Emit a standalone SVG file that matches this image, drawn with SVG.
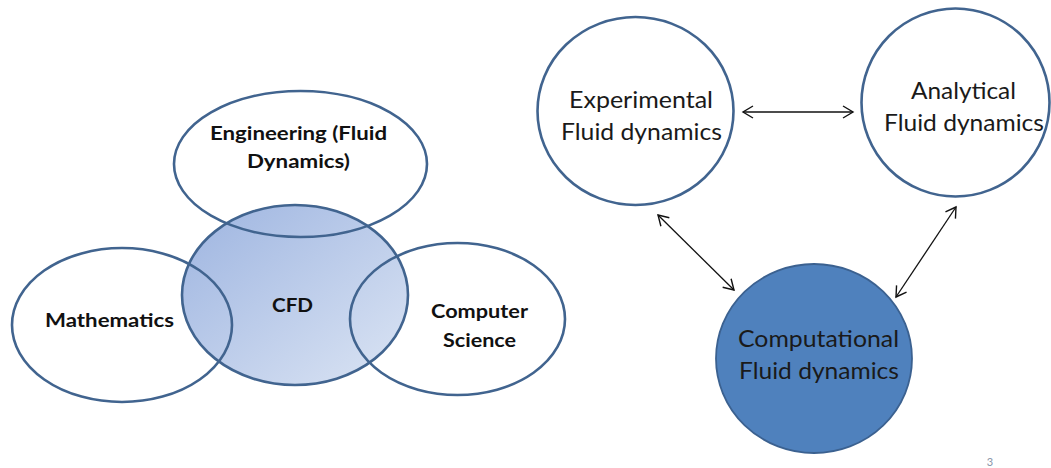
<svg xmlns="http://www.w3.org/2000/svg" width="1051" height="468" viewBox="0 0 1051 468">
<style>
.ring{fill:none;stroke:#41648F;stroke-width:2.6}
.lb{font-family:Lato,"Open Sans","Liberation Sans",sans-serif;font-weight:bold;font-size:19px;fill:#111;text-anchor:middle}
.lr{font-family:Lato,"Open Sans","Liberation Sans",sans-serif;font-size:23px;fill:#1a1a1a;text-anchor:middle}
.conn{stroke:#111;stroke-width:1.3;fill:none;marker-start:url(#ah);marker-end:url(#ah)}
</style>
<defs>
<linearGradient id="cfdg" x1="0" y1="0" x2="1" y2="1">
<stop offset="0" stop-color="#9DB4E0"/>
<stop offset="1" stop-color="#DCE5F4"/>
</linearGradient>
<marker id="ah" viewBox="-12 -8 14 16" markerWidth="14" markerHeight="16" refX="0" refY="0" markerUnits="userSpaceOnUse" orient="auto-start-reverse">
<path d="M-10,-6 L0,0 L-10,6" fill="none" stroke="#111" stroke-width="1.4"/>
</marker>
</defs>
<rect width="1051" height="468" fill="#fff"/>
<g id="cfd">
<ellipse cx="295" cy="295" rx="113" ry="90" fill="url(#cfdg)" stroke="#41648F" stroke-width="2.6"/>
<text class="lb" x="292.5" y="312" font-size="21" textLength="41" lengthAdjust="spacingAndGlyphs">CFD</text>
</g>
<g id="engineering">
<ellipse class="ring" cx="300.5" cy="164" rx="126.5" ry="73"/>
<text class="lb" x="298.5" y="140" textLength="177" lengthAdjust="spacingAndGlyphs">Engineering (Fluid</text>
<text class="lb" x="298.5" y="168" textLength="103" lengthAdjust="spacingAndGlyphs">Dynamics)</text>
</g>
<g id="mathematics">
<ellipse class="ring" cx="122" cy="325" rx="110" ry="77"/>
<text class="lb" x="109.5" y="327" textLength="129" lengthAdjust="spacingAndGlyphs">Mathematics</text>
</g>
<g id="computer-science">
<ellipse class="ring" cx="457.5" cy="319" rx="107.5" ry="76"/>
<text class="lb" x="479.5" y="318" textLength="97" lengthAdjust="spacingAndGlyphs">Computer</text>
<text class="lb" x="479.5" y="347" textLength="73" lengthAdjust="spacingAndGlyphs">Science</text>
</g>
<g id="experimental">
<ellipse class="ring" cx="635.5" cy="111" rx="98" ry="94"/>
<text class="lr" x="641" y="108" textLength="144" lengthAdjust="spacingAndGlyphs">Experimental</text>
<text class="lr" x="641.5" y="140" textLength="161" lengthAdjust="spacingAndGlyphs">Fluid dynamics</text>
</g>
<g id="analytical">
<ellipse class="ring" cx="955.5" cy="102.5" rx="94" ry="94"/>
<text class="lr" x="963.5" y="99" textLength="105" lengthAdjust="spacingAndGlyphs">Analytical</text>
<text class="lr" x="964" y="131" textLength="160" lengthAdjust="spacingAndGlyphs">Fluid dynamics</text>
</g>
<g id="computational">
<ellipse cx="814" cy="358.5" rx="98" ry="94.5" fill="#4F81BD" stroke="#3B6190" stroke-width="1.8"/>
<text class="lr" x="818.5" y="347" textLength="161" lengthAdjust="spacingAndGlyphs">Computational</text>
<text class="lr" x="819" y="379" textLength="160" lengthAdjust="spacingAndGlyphs">Fluid dynamics</text>
</g>
<g id="connectors">
<line class="conn" x1="743" y1="112" x2="853" y2="112"/>
<line class="conn" x1="658" y1="215" x2="734" y2="290"/>
<line class="conn" x1="956" y1="207" x2="896" y2="297"/>
</g>
<text x="990" y="466" font-family="Lato,'Liberation Sans',sans-serif" font-size="11" fill="#8A96A8" text-anchor="middle">3</text>
</svg>
